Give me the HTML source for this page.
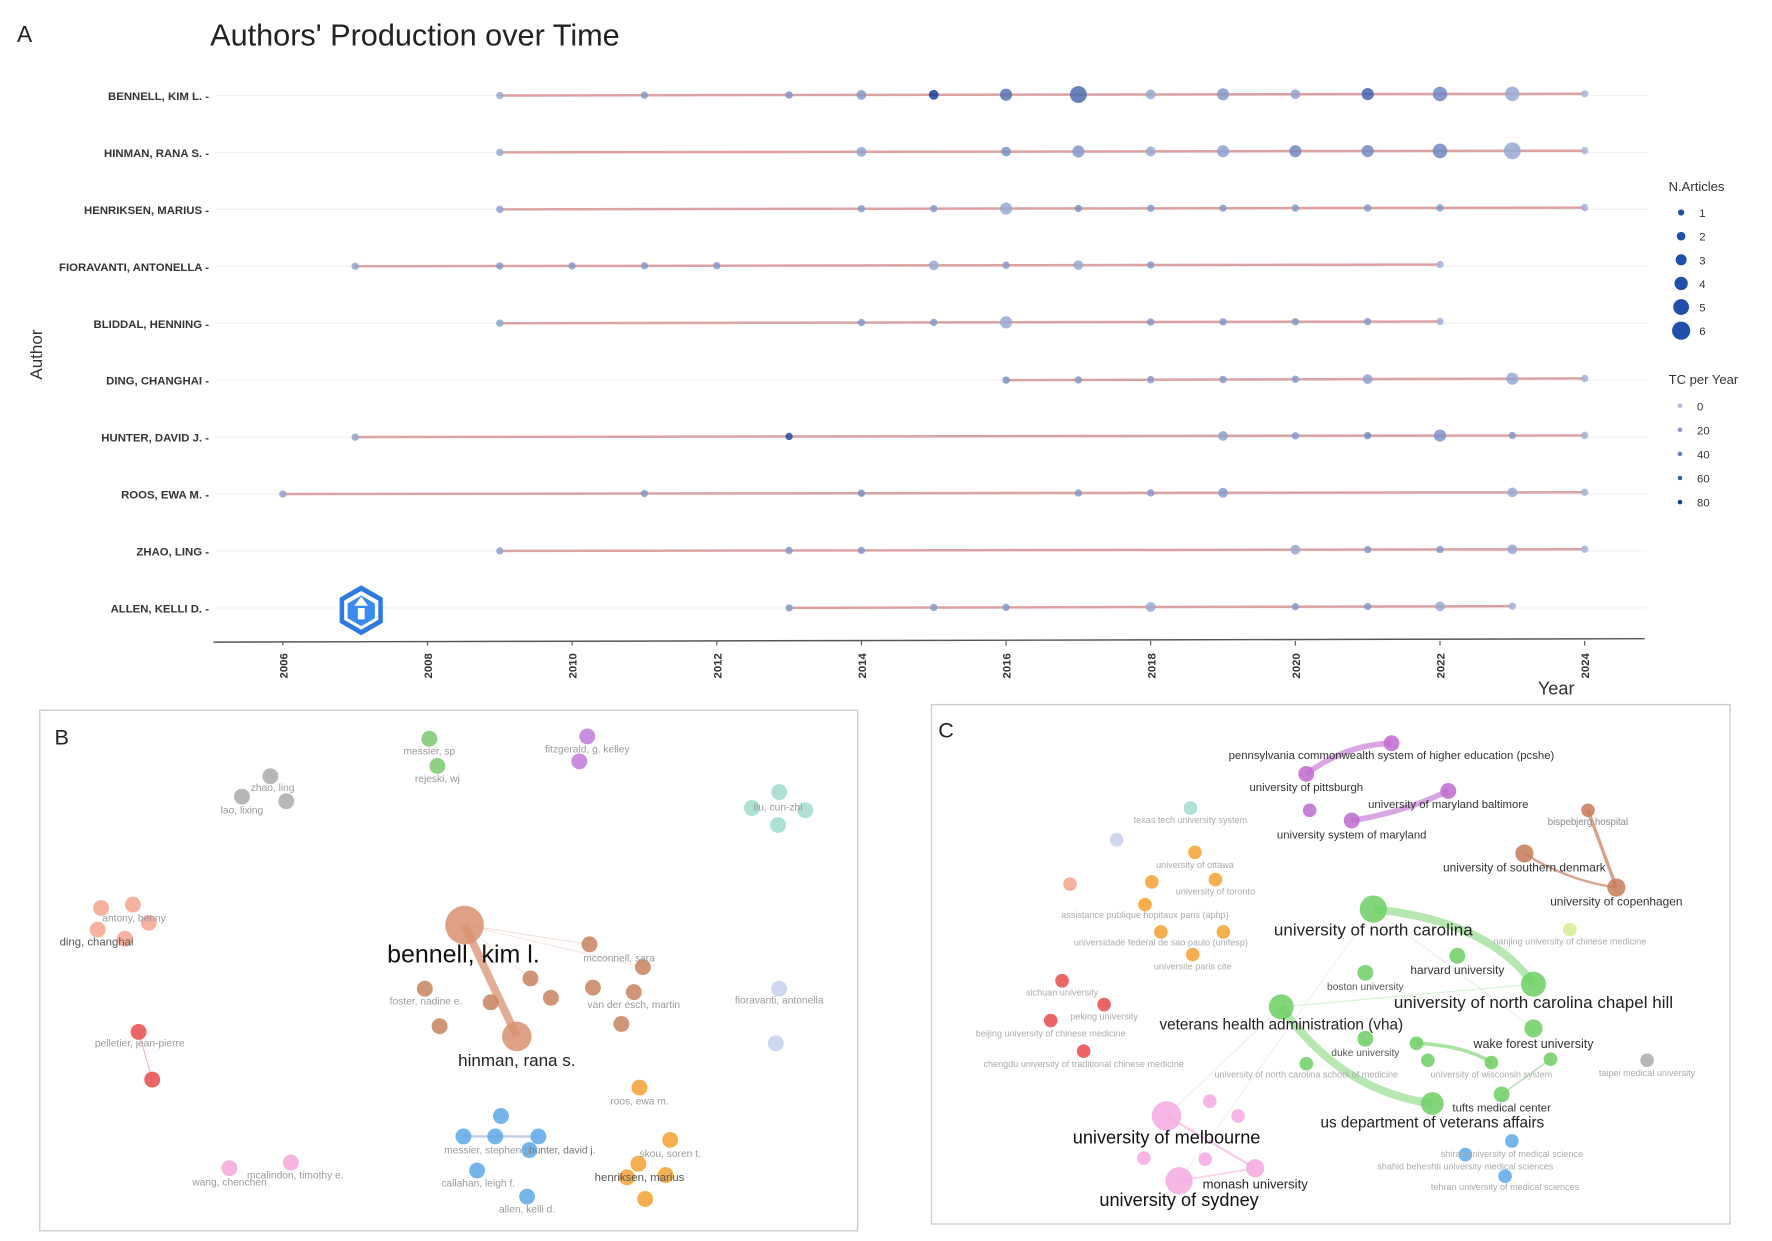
<!DOCTYPE html>
<html><head><meta charset="utf-8"><style>
html,body{margin:0;padding:0;background:#fff;}
svg{display:block;font-family:"Liberation Sans",Arial,sans-serif;}
</style></head><body>
<svg id="fig" width="1772" height="1241" viewBox="0 0 1560 1092" preserveAspectRatio="none">
<rect x="0" y="0" width="1560" height="1092" fill="#fff"/>
<text x="15" y="37" font-size="20" fill="#222">A</text>
<text x="185" y="40" font-size="27" fill="#222">Authors' Production over Time</text>
<text transform="translate(37,312) rotate(-90)" text-anchor="middle" font-size="15" fill="#333">Author</text>
<text x="1370" y="611" text-anchor="middle" font-size="16" fill="#333">Year</text>
<g id="plotA"></g>
<g id="legendA"></g>
<g transform="translate(318,537)">
<polygon points="0,-22 19,-11 19,11 0,22 -19,11 -19,-11" fill="#2f7ae0"/>
<polygon points="0,-17 15,-8.5 15,8.5 0,17 -15,8.5 -15,-8.5" fill="#fff"/>
<polygon points="0,-13 12,-6 12,7 0,14 -12,7 -12,-6" fill="#3a8af0"/>
<polygon points="0,-12 -6,-4 6,-4" fill="#fff"/>
<rect x="-3" y="-2" width="6" height="10" fill="#fff"/>
</g>
<!-- Panel B -->
<rect x="35" y="625" width="720" height="458" fill="#fff" stroke="#ccc" stroke-width="1.2"/>
<text x="48" y="655" font-size="19" fill="#222">B</text>
<g id="netB"></g>
<!-- Panel C -->
<rect x="820" y="620" width="703" height="457" fill="#fff" stroke="#ccc" stroke-width="1.2"/>
<text x="826" y="649" font-size="19" fill="#222">C</text>
<g id="netC"></g>
</svg>
<script>
const NS="http://www.w3.org/2000/svg";
const authors=["BENNELL, KIM L.","HINMAN, RANA S.","HENRIKSEN, MARIUS","FIORAVANTI, ANTONELLA","BLIDDAL, HENNING","DING, CHANGHAI","HUNTER, DAVID J.","ROOS, EWA M.","ZHAO, LING","ALLEN, KELLI D."];
const years=[
[2009,2011,2013,2014,2015,2016,2017,2018,2019,2020,2021,2022,2023,2024],
[2009,2014,2016,2017,2018,2019,2020,2021,2022,2023,2024],
[2009,2014,2015,2016,2017,2018,2019,2020,2021,2022,2024],
[2007,2009,2010,2011,2012,2015,2016,2017,2018,2022],
[2009,2014,2015,2016,2018,2019,2020,2021,2022],
[2016,2017,2018,2019,2020,2021,2023,2024],
[2007,2013,2019,2020,2021,2022,2023,2024],
[2006,2011,2014,2017,2018,2019,2023,2024],
[2009,2013,2014,2020,2021,2022,2023,2024],
[2013,2015,2016,2018,2020,2021,2022,2023]];
const articles=[
[1,1,1,2,2,3,5,2,3,2,3,4,4,1],
[1,2,2,3,2,3,3,3,4,5,1],
[1,1,1,3,1,1,1,1,1,1,1],
[1,1,1,1,1,2,1,2,1,1],
[1,1,1,3,1,1,1,1,1],
[1,1,1,1,1,2,3,1],
[1,1,2,1,1,3,1,1],
[1,1,1,1,1,2,2,1],
[1,1,1,2,1,1,2,1],
[1,1,1,2,1,1,2,1]];
const tcPerYear=[
[10,20,25,20,80,45,50,10,20,15,55,30,10,2],
[10,15,25,20,10,15,30,30,30,10,2],
[15,20,20,10,25,20,20,20,20,20,5],
[15,20,20,20,20,10,20,10,20,5],
[15,20,20,10,20,20,20,20,5],
[25,20,20,20,20,15,10,5],
[15,70,15,20,30,25,20,5],
[15,20,25,20,20,20,10,5],
[15,20,20,10,20,20,10,5],
[20,20,20,10,20,20,10,5]];
const xTicks=[2006,2008,2010,2012,2014,2016,2018,2020,2022,2024];
const sizeLegend=[1,2,3,4,5,6];
const tcLegend=[0,20,40,60,80];
function xS(y){return 249+(y-2006)*63.67;}
function yS(i){return 84+i*50.1;}
function rS(n){return 2.2+n*1.05;}
function cS(tc){const t=Math.min(tc,80)/80;const a=[170,185,220],b=[20,60,150];
return `rgb(${Math.round(a[0]+(b[0]-a[0])*t)},${Math.round(a[1]+(b[1]-a[1])*t)},${Math.round(a[2]+(b[2]-a[2])*t)})`;}
function mk(tag,at,parent){const e=document.createElementNS(NS,tag);for(const k in at)e.setAttribute(k,at[k]);parent.appendChild(e);return e;}
const P=document.getElementById('plotA');
// axis
const ax=mk('line',{x1:188,y1:565,x2:1448,y2:562,stroke:'#555','stroke-width':1.3},P);


xTicks.forEach(t=>{
const tk=mk('line',{x1:xS(t),y1:564,x2:xS(t),y2:568,stroke:'#555'},P);


const tl=mk('text',{transform:`translate(${xS(t)+4},${597}) rotate(-90)`,'font-size':10,'font-weight':'bold',fill:'#333'},P);
tl.textContent=t;


});
authors.forEach((a,i)=>{
const y=yS(i);
const g=mk('g',{},P);


mk('line',{x1:190,y1:y,x2:1450,y2:y,stroke:'#f0f0f0','stroke-width':1},g);
const lb=mk('text',{x:184,y:y+4,'text-anchor':'end','font-size':10,'font-weight':'bold',fill:'#333'},g);
lb.textContent=a+" -";


const ys=years[i];
const ln=mk('line',{x1:xS(ys[0]),y1:y,x2:xS(ys[ys.length-1]),y2:y-1.5,stroke:'#dca2a2','stroke-width':2.2},g);


ys.forEach((yr,j)=>{
const c=mk('circle',{cx:xS(yr),cy:y-1.5*(yr-ys[0])/Math.max(1,ys[ys.length-1]-ys[0]),r:rS(articles[i][j]),fill:cS(tcPerYear[i][j]),'fill-opacity':0.85},g);


});
});
const L=document.getElementById('legendA');
const t1=mk('text',{x:1469,y:168,'font-size':11.5,fill:'#333'},L);t1.textContent='N.Articles';


sizeLegend.forEach((n,k)=>{const y=187+k*20.8;
const c=mk('circle',{cx:1480,cy:y,r:rS(n)-0.5,fill:'#1f4fa8'},L);


const t=mk('text',{x:1496,y:y+4,'font-size':10,fill:'#333'},L);t.textContent=n;});
const t2=mk('text',{x:1469,y:338,'font-size':11.5,fill:'#333'},L);t2.textContent='TC per Year';


tcLegend.forEach((v,k)=>{const y=357+k*21.2;
const c=mk('circle',{cx:1479,cy:y,r:2,fill:cS(v)},L);


const t=mk('text',{x:1494,y:y+4,'font-size':10,fill:'#333'},L);t.textContent=v;});

// networks: [x,y,r,color]
const nodesB=[
[238,683,7,'#aaa'],[213,701,7,'#aaa'],[252,705,7,'#aaa'],
[378,650,7,'#7cc870'],[385,674,7,'#7cc870'],
[517,648,7,'#c07ad8'],[510,670,7,'#c07ad8'],
[686,697,7,'#9fdccf'],[662,711,7,'#9fdccf'],[709,713,7,'#9fdccf'],[685,726,7,'#9fdccf'],
[89,799,7,'#f4a58c'],[117,796,7,'#f4a58c'],[86,818,7,'#f4a58c'],[110,826,7,'#f4a58c'],[131,812,7,'#f4a58c'],
[122,908,7,'#e84a4a'],[134,950,7,'#e84a4a'],
[409,814,17,'#d99070'],[455,912,13,'#d99070'],[519,831,7,'#c8825f'],[566,851,7,'#c8825f'],[467,861,7,'#c8825f'],[485,878,7,'#c8825f'],[432,882,7,'#c8825f'],[374,870,7,'#c8825f'],[387,903,7,'#c8825f'],[522,869,7,'#c8825f'],[558,873,7,'#c8825f'],[547,901,7,'#c8825f'],
[686,870,7,'#c5cff0'],[683,918,7,'#c5cff0'],
[563,957,7,'#f5a030'],[590,1003,7,'#f5a030'],[562,1024,7,'#f5a030'],[586,1034,7,'#f5a030'],[552,1036,7,'#f5a030'],[568,1055,7,'#f5a030'],
[441,982,7,'#5aa8e8'],[408,1000,7,'#5aa8e8'],[436,1000,7,'#5aa8e8'],[474,1000,7,'#5aa8e8'],[466,1012,7,'#5aa8e8'],[420,1030,7,'#5aa8e8'],[464,1053,7,'#5aa8e8'],
[202,1028,7,'#f5a8d8'],[256,1023,7,'#f5a8d8']];
const labelsB=[
['zhao, ling',240,696,9,'#999'],['lao, lixing',213,716,9,'#999'],['messier, sp',378,664,9,'#999'],['rejeski, wj',385,688,9,'#999'],
['fitzgerald, g. kelley',517,662,9,'#999'],['liu, cun-zhi',685,713,9,'#999'],['antony, benny',118,811,9,'#999'],['ding, changhai',85,832,10,'#555'],
['pelletier, jean-pierre',123,921,9,'#999'],['bennell, kim l.',408,847,22,'#111'],['hinman, rana s.',455,938,15,'#222'],
['mcconnell, sara',545,846,9,'#999'],['foster, nadine e.',375,884,9,'#999'],['van der esch, martin',558,887,9,'#999'],
['fioravanti, antonella',686,883,9,'#999'],['roos, ewa m.',563,972,9,'#999'],['skou, soren t.',590,1018,9,'#999'],['henriksen, marius',563,1039,10,'#555'],
['messier, stephen p.',430,1015,9,'#999'],['hunter, david j.',495,1015,9,'#777'],['callahan, leigh f.',421,1044,9,'#999'],['allen, kelli d.',464,1067,9,'#999'],
['wang, chenchen',202,1043,9,'#999'],['mcalindon, timothy e.',260,1037,9,'#999']];
const edgesB=[[409,814,455,912,7,'#d99070',0.75],[409,814,519,831,1,'#e8c0b0',0.5],[409,814,566,851,1,'#e8c0b0',0.4],[409,814,467,861,1,'#e8c0b0',0.4],[122,908,134,950,1,'#e88',0.6],[408,1000,474,1000,2,'#9ac',0.6]];
const nodesC=[
[1225,654,7,'#c06ad0'],[1150,681,7,'#c06ad0'],[1275,696,7,'#c06ad0'],[1153,713,6,'#c06ad0'],[1190,722,7,'#c06ad0'],
[1048,711,6,'#9fdccf'],[983,739,6,'#c5cff0'],
[1052,750,6,'#f5a030'],[1014,776,6,'#f5a030'],[1070,774,6,'#f5a030'],[1008,796,6,'#f5a030'],[1022,820,6,'#f5a030'],[1077,820,6,'#f5a030'],[1050,840,6,'#f5a030'],
[942,778,6,'#f4a58c'],
[1398,713,6,'#c87a58'],[1342,751,8,'#c87a58'],[1423,781,8,'#c87a58'],
[1209,800,12,'#6ccf62'],[1350,866,11,'#6ccf62'],[1128,886,11,'#6ccf62'],[1261,971,10,'#6ccf62'],[1283,841,7,'#6ccf62'],[1202,856,7,'#6ccf62'],[1350,905,8,'#6ccf62'],[1202,914,7,'#6ccf62'],[1247,918,6,'#6ccf62'],[1257,933,6,'#6ccf62'],[1150,936,6,'#6ccf62'],[1313,935,6,'#6ccf62'],[1365,932,6,'#6ccf62'],[1322,963,7,'#6ccf62'],
[1382,818,6,'#d4ec90'],
[935,863,6,'#e84a4a'],[972,884,6,'#e84a4a'],[925,898,6,'#e84a4a'],[954,925,6,'#e84a4a'],
[1450,933,6,'#aaa'],
[1027,982,13,'#f5a8e0'],[1038,1039,12,'#f5a8e0'],[1105,1028,8,'#f5a8e0'],[1065,969,6,'#f5a8e0'],[1090,982,6,'#f5a8e0'],[1007,1019,6,'#f5a8e0'],[1061,1020,6,'#f5a8e0'],
[1331,1004,6,'#5aa8e8'],[1290,1016,6,'#5aa8e8'],[1325,1035,6,'#5aa8e8']];
const labelsC=[
['pennsylvania commonwealth system of higher education (pcshe)',1225,668,10,'#333'],['university of pittsburgh',1150,696,10,'#333'],
['university of maryland baltimore',1275,711,10,'#333'],['university system of maryland',1190,738,10,'#333'],
['texas tech university system',1048,724,8,'#aaa'],['university of ottawa',1052,764,8,'#aaa'],['university of toronto',1070,787,8,'#aaa'],
['assistance publique hopitaux paris (aphp)',1008,808,8,'#aaa'],['universidade federal de sao paulo (unifesp)',1022,832,8,'#aaa'],['universite paris cite',1050,853,8,'#aaa'],
['bispebjerg hospital',1398,726,8.5,'#888'],['university of southern denmark',1342,767,10.5,'#333'],['university of copenhagen',1423,797,10.5,'#333'],
['university of north carolina',1209,823,15,'#222'],['nanjing university of chinese medicine',1382,831,8,'#aaa'],['harvard university',1283,857,10.5,'#333'],
['boston university',1202,871,9,'#555'],['university of north carolina chapel hill',1350,887,15,'#222'],['veterans health administration (vha)',1128,906,13.5,'#222'],
['wake forest university',1350,922,11,'#333'],['duke university',1202,929,9,'#555'],['university of north carolina school of medicine',1150,948,8,'#aaa'],
['university of wisconsin system',1313,948,8,'#aaa'],['taipei medical university',1450,947,8,'#aaa'],['tufts medical center',1322,978,10,'#333'],
['us department of veterans affairs',1261,992,13.5,'#222'],['sichuan university',935,876,8,'#aaa'],['peking university',972,897,8,'#aaa'],
['beijing university of chinese medicine',925,912,8,'#aaa'],['chengdu university of traditional chinese medicine',954,939,8,'#aaa'],
['university of melbourne',1027,1006,16,'#111'],['monash university',1105,1046,11.5,'#222'],['university of sydney',1038,1061,16,'#111'],
['shiraz university of medical science',1331,1018,8,'#aaa'],['shahid beheshti university medical sciences',1290,1029,8,'#aaa'],['tehran university of medical sciences',1325,1047,8,'#aaa']];
const edgesC=[
['M1150,681 Q1185,655 1225,654',5,'#c06ad0',0.6],['M1190,722 Q1235,715 1275,696',5,'#c06ad0',0.6],
['M1398,713 L1423,781',3,'#c87a58',0.7],['M1342,751 Q1380,775 1423,781',2,'#c87a58',0.7],
['M1209,800 Q1310,810 1350,866',7,'#6ccf62',0.5],['M1128,886 Q1180,960 1261,971',7,'#6ccf62',0.5],['M1247,918 Q1290,920 1313,935',3,'#6ccf62',0.6],
['M1128,886 L1350,866',1,'#9d9',0.4],['M1209,800 L1350,905',1,'#bdb',0.4],['M1365,932 L1322,963',1.5,'#8b8',0.5],
['M1027,982 L1105,1028',2,'#f5a8e0',0.6],['M1038,1039 L1105,1028',1.5,'#f5a8e0',0.5],['M1027,982 L1128,886',1,'#ddd',0.5],['M1038,1039 L1209,800',1,'#e5e5e5',0.5]];
function drawNet(id,edges,nodes,labels,isPath){
const G=document.getElementById(id);
edges.forEach(e=>{let el;
if(isPath)el=mk('path',{d:e[0],fill:'none',stroke:e[2],'stroke-width':e[1],'stroke-opacity':e[3]},G);
else el=mk('line',{x1:e[0],y1:e[1],x2:e[2],y2:e[3],stroke:e[5],'stroke-width':e[4],'stroke-opacity':e[6]},G);

});
nodes.forEach(n=>{const c=mk('circle',{cx:n[0],cy:n[1],r:n[2],fill:n[3],'fill-opacity':0.85},G);

});
labels.forEach(l=>{const t=mk('text',{x:l[1],y:l[2],'text-anchor':'middle','font-size':l[3],fill:l[4]},G);t.textContent=l[0];

});
}
drawNet('netB',edgesB,nodesB,labelsB,false);
drawNet('netC',edgesC,nodesC,labelsC,true);
</script>
</body></html>
